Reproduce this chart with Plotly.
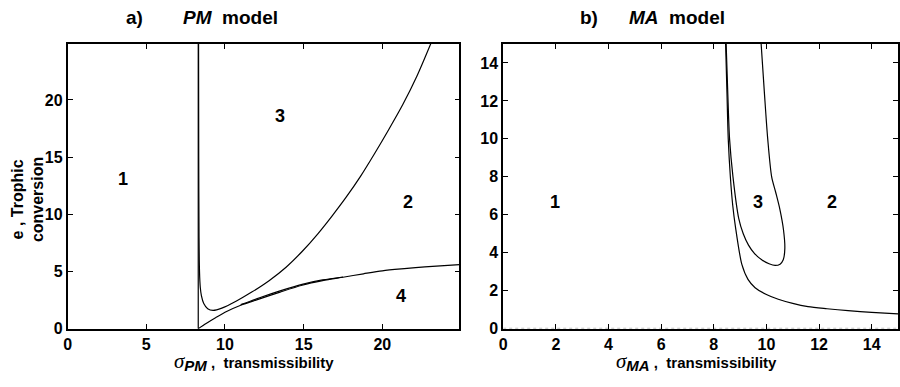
import plotly.graph_objects as go

# ---------------- data ----------------
# Panel a (PM model)
pm_vertical_x = [8.3, 8.3]
pm_vertical_y = [0, 25]

pm_upper_x = [8.32, 8.33, 8.35, 8.38, 8.43, 8.5, 8.65, 8.9, 9.24, 9.8, 10.7, 11.7, 12.8,
              13.9, 14.9, 15.9, 16.8, 17.7, 18.6, 19.5, 20.4, 21.3, 22.2, 23.1]
pm_upper_y = [25, 15, 8, 5, 3.6, 2.9, 2.2, 1.75, 1.6, 1.8, 2.4, 3.2, 4.2,
              5.4, 6.75, 8.3, 9.85, 11.5, 13.3, 15.3, 17.4, 19.6, 22.1, 25.0]

pm_lower_x = [8.3, 8.8, 9.4, 10.1, 11.0, 12.2, 13.5, 14.9, 16.2, 17.5, 18.8, 20.0, 21.4, 22.7, 24.9]
pm_lower_y = [0, 0.45, 0.95, 1.5, 2.05, 2.6, 3.2, 3.8, 4.2, 4.5, 4.8, 5.06, 5.25, 5.4, 5.6]

pm_lower2_x = [11.0, 12.2, 13.5, 14.9, 16.2, 17.5]
pm_lower2_y = [2.1, 2.7, 3.3, 3.88, 4.26, 4.52]

# Panel b (MA model)
ma_outer_x = [8.45, 8.5, 8.55, 8.63, 8.72, 8.82, 9.07, 9.3, 9.57, 10.0, 10.45, 11.0,
              11.58, 12.3, 13.1, 14.0, 15.0]
ma_outer_y = [15, 12.5, 10, 8, 6.5, 5.4, 3.37, 2.6, 2.16, 1.8, 1.55, 1.33,
              1.16, 1.05, 0.95, 0.86, 0.78]

ma_loop_x = [8.47, 8.53, 8.6, 8.73, 8.95, 9.12, 9.32, 9.55, 9.82, 10.1, 10.33, 10.52,
             10.64, 10.7, 10.65, 10.51, 10.35, 10.2, 10.05, 9.92, 9.8]
ma_loop_y = [15, 12.5, 10, 8, 5.8, 5.0, 4.4, 3.95, 3.63, 3.42, 3.33, 3.4,
             3.63, 4.23, 5.2, 6.3, 7.2, 8.0, 10, 12.5, 15]

ma_base_x = [0, 15]
ma_base_y = [0.02, 0.02]

# region labels
pm_region_text = ["1", "3", "2", "4"]
pm_region_x = [3.5, 13.5, 21.6, 21.2]
pm_region_y = [13.1, 18.6, 11.1, 2.9]

ma_region_text = ["1", "3", "2"]
ma_region_x = [1.95, 9.67, 12.5]
ma_region_y = [6.7, 6.7, 6.7]

pm_ticks = [0, 5, 10, 15, 20]
ma_ticks = [0, 2, 4, 6, 8, 10, 12, 14]

# ---------------- figure ----------------
FONT = "Liberation Sans"
fig = go.Figure()

line_style = dict(color="black", width=1.2)

def add(x, y, xa, ya, shape="spline", style=None):
    fig.add_trace(go.Scatter(x=x, y=y, mode="lines", xaxis=xa, yaxis=ya,
                             line=dict(**(style or line_style), shape=shape, smoothing=0.8),
                             hoverinfo="skip", showlegend=False))

add(pm_vertical_x, pm_vertical_y, "x", "y", shape="linear")
add(pm_upper_x, pm_upper_y, "x", "y")
add(pm_lower_x, pm_lower_y, "x", "y")
add(pm_lower2_x, pm_lower2_y, "x", "y")

add(ma_base_x, ma_base_y, "x2", "y2", shape="linear",
    style=dict(color="#b0b0b0", width=1, dash="dot"))
add(ma_outer_x, ma_outer_y, "x2", "y2")
add(ma_loop_x, ma_loop_y, "x2", "y2")

axis_common = dict(showline=True, linecolor="black", linewidth=1.8, mirror="ticks",
                   ticks="inside", ticklen=5, tickwidth=1, tickcolor="black",
                   showgrid=False, zeroline=False,
                   tickfont=dict(family=FONT, size=16, color="black", weight=700))

def bold(vals):
    return [f"<b>{v}</b>" for v in vals]

fig.update_layout(
    width=900, height=387,
    margin=dict(l=0, r=0, t=0, b=0),
    paper_bgcolor="white", plot_bgcolor="white",
    xaxis=dict(domain=[64/900, 458/900], range=[0, 24.9], tickvals=pm_ticks, ticktext=bold(pm_ticks),
               anchor="y", **axis_common),
    yaxis=dict(domain=[0.1305, 0.8837], range=[0, 24.9], tickvals=pm_ticks, ticktext=bold(pm_ticks),
               anchor="x", **axis_common),
    xaxis2=dict(domain=[502/900, 899/900], range=[0, 15], tickvals=ma_ticks, ticktext=bold(ma_ticks),
                anchor="y2", **axis_common),
    yaxis2=dict(domain=[0.1305, 0.8837], range=[0, 15], tickvals=ma_ticks, ticktext=bold(ma_ticks),
                anchor="x2", **axis_common),
)

ann = []
for t, x, y in zip(pm_region_text, pm_region_x, pm_region_y):
    ann.append(dict(x=x, y=y, xref="x", yref="y", text=f"<b>{t}</b>", showarrow=False,
                    font=dict(family=FONT, size=18, color="black")))
for t, x, y in zip(ma_region_text, ma_region_x, ma_region_y):
    ann.append(dict(x=x, y=y, xref="x2", yref="y2", text=f"<b>{t}</b>", showarrow=False,
                    font=dict(family=FONT, size=18, color="black")))

def paper(px, py):
    return px / 900, 1 - py / 387

title_font = dict(family=FONT, size=19, color="black")
for txt, px, py in [("<b>a)</b>", 131, 18), ("<b><i>PM</i>  model</b>", 228, 18),
                    ("<b>b)</b>", 588, 18), ("<b><i>MA</i>  model</b>", 677, 18)]:
    x, y = paper(px, py)
    ann.append(dict(x=x, y=y, xref="paper", yref="paper", text=txt, showarrow=False,
                    xanchor="center", yanchor="middle", font=title_font))

sigma = ("<span style='font-family:Liberation Serif;font-style:italic;"
         "font-size:21px;font-weight:normal'>σ</span>")
for sub, px in [("PM", 251), ("MA", 696)]:
    x, y = paper(px, 370)
    ann.append(dict(x=x, y=y, xref="paper", yref="paper",
                    text=(f"{sigma}<sub><span style='font-size:15px'><b><i>{sub}</i></b></span></sub>"
                          f"<b> ,  transmissibility</b>"),
                    showarrow=False, xanchor="center", yanchor="middle",
                    font=dict(family=FONT, size=15, color="black")))

x, y = paper(24, 204)
ann.append(dict(x=x, y=y, xref="paper", yref="paper", text="<b>e , Trophic<br>conversion</b>",
                textangle=-90, showarrow=False, xanchor="center", yanchor="middle",
                font=dict(family=FONT, size=16, color="black")))

fig.update_layout(annotations=ann)
fig.write_html("out.html")
